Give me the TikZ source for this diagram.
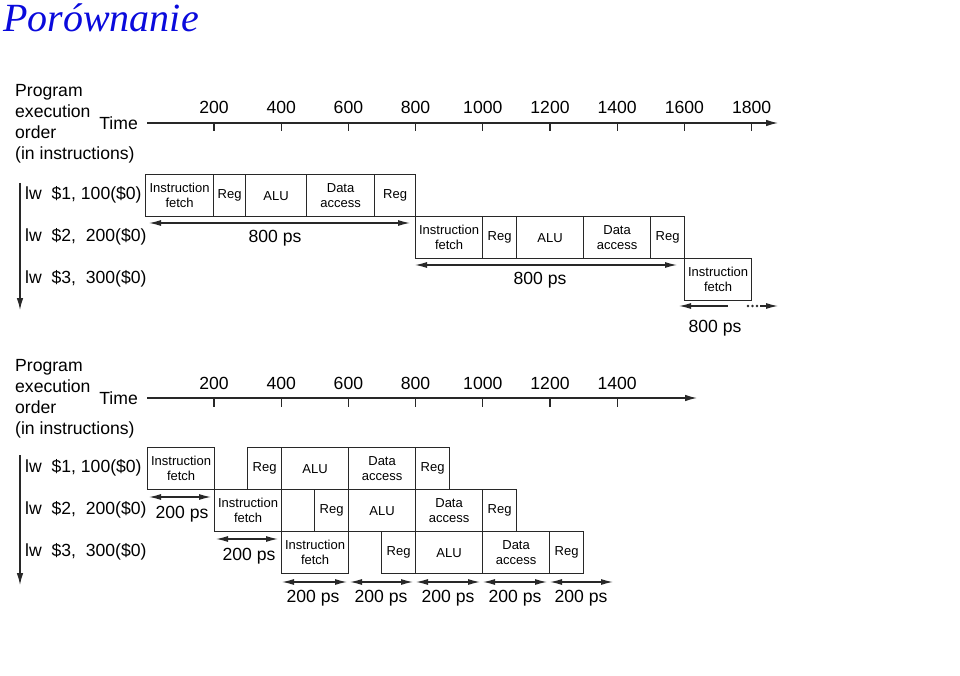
\documentclass[tikz,border=0pt]{standalone}
\usepackage{fontspec}
\setmainfont{Liberation Sans}
\newfontfamily\titlefont{Liberation Serif}
\usepackage{tikz}
\usetikzlibrary{arrows.meta}

\definecolor{titleblue}{RGB}{10,10,220}
\definecolor{ink}{RGB}{40,40,40}
\newcommand{\bigfont}{\fontsize{17.6}{21}\selectfont}
\newcommand{\stagefont}{\fontsize{13}{15}\selectfont}

\tikzset{
  stage/.style={draw=ink, line width=1.2pt, anchor=north west, minimum height=42pt,
    inner sep=0pt, align=center, font=\stagefont},
  lbl/.style={font=\bigfont, inner sep=0pt},
  dim/.style={draw=ink, line width=1.2pt, {Latex[length=12pt,width=6pt]}-{Latex[length=12pt,width=6pt]}},
  axis/.style={draw=ink, line width=1.2pt, -{Latex[length=12pt,width=6.5pt]}},
  order/.style={draw=ink, line width=1.2pt, -{Latex[length=12pt,width=6.5pt]}}
}

\begin{document}
\begin{tikzpicture}[x=1pt,y=-1pt]
\useasboundingbox (0,0) rectangle (960,676);

% title
\node[anchor=base west, inner sep=0pt, font=\titlefont\itshape\fontsize{40}{45}\selectfont, text=titleblue] (title) at (3,32) {Porównanie};

% ---------- non-pipelined ----------
\node[lbl, anchor=west, align=left] (ordA) at (15,124) {Program\\execution\\order\\(in instructions)};
\node[lbl, anchor=east] (timeA) at (138,123) {Time};
\coordinate (axA0) at (147,123);
\coordinate (axA1) at (778,123);
\draw[axis] (axA0) -- (axA1);
\foreach \t [count=\k from 0] in {200,400,600,800,1000,1200,1400,1600,1800}{
  \draw[ink, line width=1.2pt] (214+67.2*\k,123) -- (214+67.2*\k,131.5);
  \node[lbl] at (214+67.2*\k,107.5) {\t};
}

\coordinate (ordA0) at (20,183);
\coordinate (ordA1) at (20,310);
\draw[order] (ordA0) -- (ordA1);
\node[lbl, anchor=west] (insA1) at (25,195) {lw~~\$1, 100(\$0)};
\node[lbl, anchor=west] (insA2) at (25,237) {lw~~\$2,~~200(\$0)};
\node[lbl, anchor=west] (insA3) at (25,279) {lw~~\$3,~~300(\$0)};

\node[stage, minimum width=68pt] (a1if)  at (145,174) {Instruction\\fetch};
\node[stage, minimum width=32pt] (a1rg)  at (213,174) {Reg};
\node[stage, minimum width=61pt] (a1alu) at (245,174) {ALU};
\node[stage, minimum width=68pt] (a1da)  at (306,174) {Data\\access};
\node[stage, minimum width=41pt] (a1wb)  at (374,174) {Reg};

\node[stage, minimum width=67pt] (a2if)  at (415,216) {Instruction\\fetch};
\node[stage, minimum width=34pt] (a2rg)  at (482,216) {Reg};
\node[stage, minimum width=67pt] (a2alu) at (516,216) {ALU};
\node[stage, minimum width=67pt] (a2da)  at (583,216) {Data\\access};
\node[stage, minimum width=34pt] (a2wb)  at (650,216) {Reg};

\node[stage, minimum width=67pt] (a3if)  at (684,258) {Instruction\\fetch};

\coordinate (dA1a) at (149,223);
\coordinate (dA1b) at (410,223);
\draw[dim] (dA1a) -- (dA1b);
\node[lbl] (tA1) at (275,238) {800 ps};
\coordinate (dA2a) at (415,265);
\coordinate (dA2b) at (677,265);
\draw[dim] (dA2a) -- (dA2b);
\node[lbl] (tA2) at (540,280) {800 ps};
\coordinate (dA3a) at (679,306);
\coordinate (dA3b) at (728,306);
\coordinate (dA3c) at (760,306);
\coordinate (dA3d) at (778,306);
\draw[ink, line width=1.2pt, {Latex[length=12pt,width=6pt]}-] (dA3a) -- (dA3b);
\draw[ink, line width=1.2pt, -{Latex[length=12pt,width=6pt]}] (dA3c) -- (dA3d);
\fill[ink] (748,306) circle (1.4pt) (752.5,306) circle (1.4pt) (757,306) circle (1.4pt);
\node[lbl] (tA3) at (715,328) {800 ps};

% ---------- pipelined ----------
\node[lbl, anchor=west, align=left] (ordB) at (15,399) {Program\\execution\\order\\(in instructions)};
\node[lbl, anchor=east] (timeB) at (138,398) {Time};
\coordinate (axB0) at (147,398);
\coordinate (axB1) at (697,398);
\draw[axis] (axB0) -- (axB1);
\foreach \t [count=\k from 0] in {200,400,600,800,1000,1200,1400}{
  \draw[ink, line width=1.2pt] (214+67.2*\k,398) -- (214+67.2*\k,406.5);
  \node[lbl] at (214+67.2*\k,383) {\t};
}

\coordinate (ordB0) at (20,455);
\coordinate (ordB1) at (20,585);
\draw[order] (ordB0) -- (ordB1);
\node[lbl, anchor=west] (insB1) at (25,468) {lw~~\$1, 100(\$0)};
\node[lbl, anchor=west] (insB2) at (25,510) {lw~~\$2,~~200(\$0)};
\node[lbl, anchor=west] (insB3) at (25,552) {lw~~\$3,~~300(\$0)};

\node[stage, minimum width=67pt] (b1if)  at (147,447) {Instruction\\fetch};
\node[stage, minimum width=34pt] (b1rg)  at (247,447) {Reg};
\node[stage, minimum width=67pt] (b1alu) at (281,447) {ALU};
\node[stage, minimum width=67pt] (b1da)  at (348,447) {Data\\access};
\node[stage, minimum width=34pt] (b1wb)  at (415,447) {Reg};

\node[stage, minimum width=67pt] (b2if)  at (214,489) {Instruction\\fetch};
\node[stage, minimum width=34pt] (b2rg)  at (314,489) {Reg};
\node[stage, minimum width=67pt] (b2alu) at (348,489) {ALU};
\node[stage, minimum width=67pt] (b2da)  at (415,489) {Data\\access};
\node[stage, minimum width=34pt] (b2wb)  at (482,489) {Reg};

\node[stage, minimum width=67pt] (b3if)  at (281,531) {Instruction\\fetch};
\node[stage, minimum width=34pt] (b3rg)  at (381,531) {Reg};
\node[stage, minimum width=67pt] (b3alu) at (415,531) {ALU};
\node[stage, minimum width=67pt] (b3da)  at (482,531) {Data\\access};
\node[stage, minimum width=34pt] (b3wb)  at (549,531) {Reg};

\coordinate (dB1a) at (149,497);
\coordinate (dB1b) at (211,497);
\draw[dim] (dB1a) -- (dB1b);
\node[lbl] (tB1) at (182,514) {200 ps};
\coordinate (dB2a) at (216,539);
\coordinate (dB2b) at (278,539);
\draw[dim] (dB2a) -- (dB2b);
\node[lbl] (tB2) at (249,556) {200 ps};

\coordinate (dB3a) at (282,582);  \coordinate (dB3b) at (347,582);
\coordinate (dB4a) at (350,582);  \coordinate (dB4b) at (413,582);
\coordinate (dB5a) at (416,582);  \coordinate (dB5b) at (480,582);
\coordinate (dB6a) at (483,582);  \coordinate (dB6b) at (547,582);
\coordinate (dB7a) at (550,582);  \coordinate (dB7b) at (613,582);
\draw[dim] (dB3a) -- (dB3b);
\draw[dim] (dB4a) -- (dB4b);
\draw[dim] (dB5a) -- (dB5b);
\draw[dim] (dB6a) -- (dB6b);
\draw[dim] (dB7a) -- (dB7b);
\node[lbl] (tB3) at (313,598) {200 ps};
\node[lbl] (tB4) at (381,598) {200 ps};
\node[lbl] (tB5) at (448,598) {200 ps};
\node[lbl] (tB6) at (515,598) {200 ps};
\node[lbl] (tB7) at (581,598) {200 ps};
\end{tikzpicture}
\end{document}
